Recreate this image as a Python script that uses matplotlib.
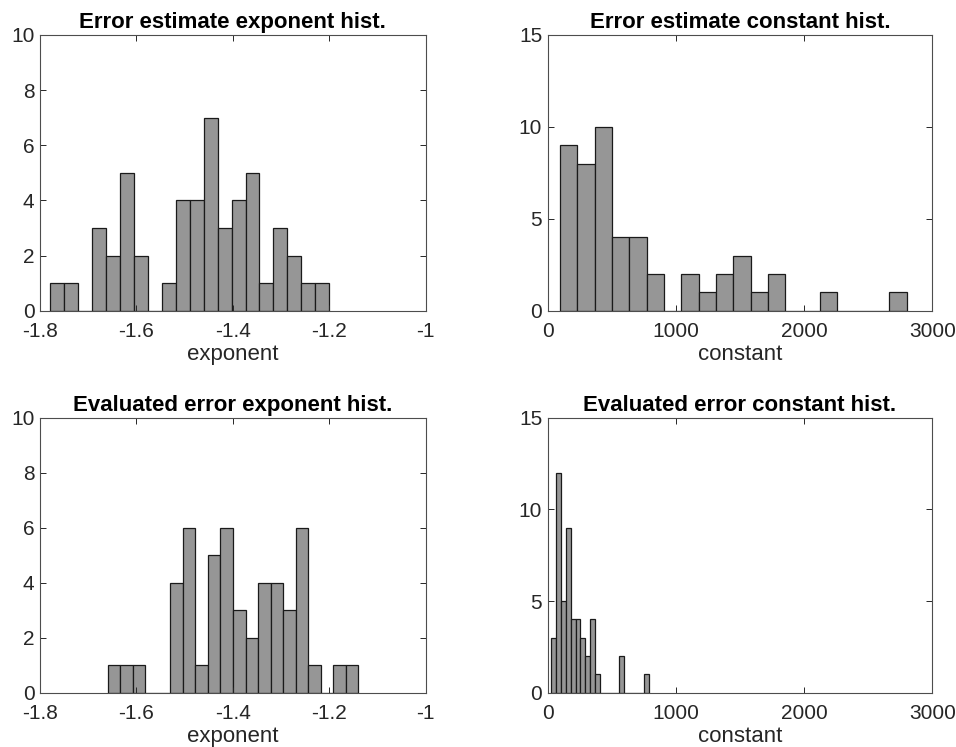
import numpy as np
from matplotlib import pyplot as plt

# histogram counts (20 bins each, 50 samples)
est_exp_counts = [1, 1, 0, 3, 2, 5, 2, 0, 1, 4, 4, 7, 3, 4, 5, 1, 3, 2, 1, 1]
est_exp_start, est_exp_width = -1.779, 0.02895

est_const_counts = [9, 8, 10, 4, 4, 2, 0, 2, 1, 2, 3, 1, 2, 0, 0, 1, 0, 0, 0, 1]
est_const_start, est_const_width = 96.0, 135.2

eval_exp_counts = [1, 1, 1, 0, 0, 4, 6, 1, 5, 6, 3, 2, 4, 4, 3, 6, 1, 0, 1, 1]
eval_exp_start, eval_exp_width = -1.6596, 0.026

eval_const_counts = [3, 12, 5, 9, 4, 4, 3, 2, 4, 1, 0, 0, 0, 0, 2, 0, 0, 0, 0, 1]
eval_const_start, eval_const_width = 28.0, 37.95

plt.rcParams['font.family'] = ['Liberation Sans', 'DejaVu Sans']
plt.rcParams['axes.unicode_minus'] = False

fig = plt.figure(figsize=(9.56, 7.47), dpi=100)

panels = [
    ([0.0418, 0.5841, 0.4035, 0.3691], est_exp_counts, est_exp_start, est_exp_width,
     'Error estimate exponent hist.', 'exponent', (-1.8, -1), [-1.8, -1.6, -1.4, -1.2, -1],
     ['-1.8', '-1.6', '-1.4', '-1.2', '-1'], (0, 10), [0, 2, 4, 6, 8, 10]),
    ([0.5729, 0.5841, 0.4024, 0.3691], est_const_counts, est_const_start, est_const_width,
     'Error estimate constant hist.', 'constant', (0, 3000), [0, 1000, 2000, 3000],
     ['0', '1000', '2000', '3000'], (0, 15), [0, 5, 10, 15]),
    ([0.0418, 0.0727, 0.4035, 0.3681], eval_exp_counts, eval_exp_start, eval_exp_width,
     'Evaluated error exponent hist.', 'exponent', (-1.8, -1), [-1.8, -1.6, -1.4, -1.2, -1],
     ['-1.8', '-1.6', '-1.4', '-1.2', '-1'], (0, 10), [0, 2, 4, 6, 8, 10]),
    ([0.5729, 0.0727, 0.4024, 0.3681], eval_const_counts, eval_const_start, eval_const_width,
     'Evaluated error constant hist.', 'constant', (0, 3000), [0, 1000, 2000, 3000],
     ['0', '1000', '2000', '3000'], (0, 15), [0, 5, 10, 15]),
]

for rect, counts, start, width, title, xlabel, xlim, xticks, xtl, ylim, yticks in panels:
    ax = fig.add_axes(rect)
    counts = np.array(counts)
    lefts = start + width * np.arange(len(counts))
    ax.bar(lefts, counts, width=width, align='edge', color='#969696',
           edgecolor='#1a1a1a', linewidth=0.9)
    ax.set_xlim(*xlim)
    ax.set_ylim(*ylim)
    ax.set_xticks(xticks)
    ax.set_xticklabels(xtl)
    ax.set_yticks(yticks)
    ax.tick_params(direction='in', top=True, right=True, length=4, width=0.7,
                   colors='#262626', labelsize=15)
    ax.tick_params(axis='x', pad=8)
    ax.tick_params(axis='y', pad=4)
    for s in ax.spines.values():
        s.set_color('#4d4d4d')
        s.set_linewidth(0.8)
    ax.set_title(title, fontsize=16, fontweight='bold', pad=5)
    ax.set_xlabel(xlabel, fontsize=16, color='#262626', labelpad=2)

plt.savefig('out.png', dpi=100)
